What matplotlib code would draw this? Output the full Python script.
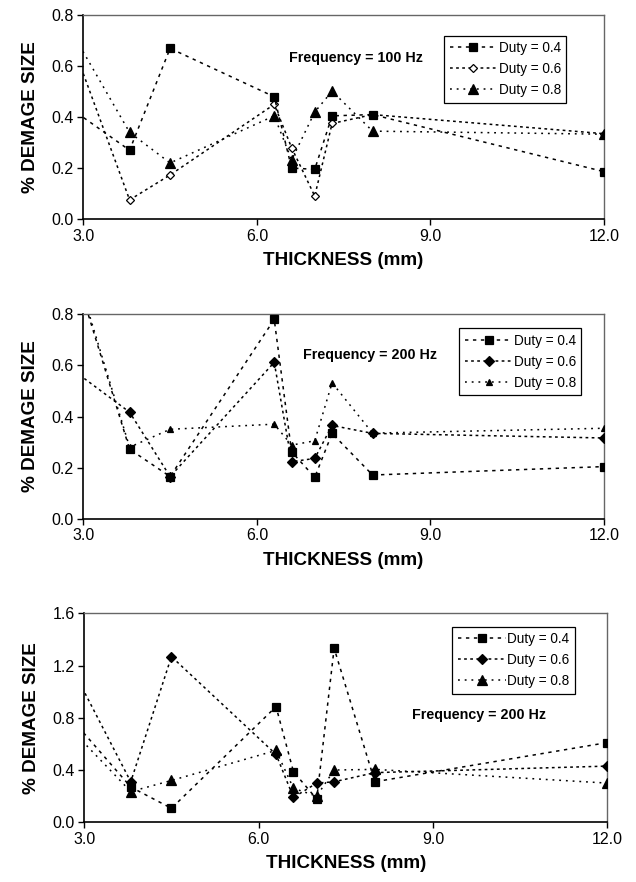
import numpy as np
import matplotlib
matplotlib.use("Agg")
import matplotlib.pyplot as plt

plt.rcParams['font.family'] = ['Liberation Sans', 'DejaVu Sans']

# thickness values (first point lies left of the visible range)
thickness = [2.0, 3.8, 4.5, 6.3, 6.6, 7.0, 7.3, 8.0, 12.0]

# frequency = 100 Hz
f100_d04 = [0.56, 0.27, 0.67, 0.48, 0.20, 0.195, 0.405, 0.41, 0.186]
f100_d06 = [1.19, 0.075, 0.173, 0.45, 0.28, 0.09, 0.375, 0.41, 0.335]
f100_d08 = [1.05, 0.34, 0.22, 0.405, 0.232, 0.42, 0.502, 0.345, 0.333]

# frequency = 200 Hz (middle)
f200_d04 = [1.60, 0.272, 0.165, 0.78, 0.262, 0.162, 0.334, 0.171, 0.204]
f200_d06 = [0.72, 0.417, 0.165, 0.612, 0.223, 0.236, 0.365, 0.334, 0.316]
f200_d08 = [1.62, 0.28, 0.35, 0.37, 0.288, 0.305, 0.532, 0.335, 0.354]

# frequency = 200 Hz (bottom)
f200b_d04 = [1.19, 0.27, 0.107, 0.885, 0.387, 0.178, 1.332, 0.31, 0.61]
f200b_d06 = [1.86, 0.31, 1.268, 0.52, 0.19, 0.30, 0.31, 0.38, 0.43]
f200b_d08 = [1.07, 0.235, 0.32, 0.55, 0.26, 0.20, 0.40, 0.405, 0.30]

labels = ["Duty = 0.4", "Duty = 0.6", "Duty = 0.8"]

fig = plt.figure(figsize=(6.36, 8.82), dpi=100)

panels = [
    dict(rect=[0.131, 0.7517, 0.8187, 0.231], series=[f100_d04, f100_d06, f100_d08],
         markers=[('s', 6, 'black'), ('D', 4.2, 'white'), ('^', 6.5, 'black')],
         ymax=0.8, ystep=0.2, text="Frequency = 100 Hz", tpos=(0.524, 0.79),
         leg=(0.693, 0.900)),
    dict(rect=[0.131, 0.4119, 0.8187, 0.2317], series=[f200_d04, f200_d06, f200_d08],
         markers=[('s', 6, 'black'), ('D', 5, 'black'), ('^', 4.5, 'black')],
         ymax=0.8, ystep=0.2, text="Frequency = 200 Hz", tpos=(0.551, 0.80),
         leg=(0.722, 0.932)),
    dict(rect=[0.1325, 0.0677, 0.8223, 0.237], series=[f200b_d04, f200b_d06, f200b_d08],
         markers=[('s', 6, 'black'), ('D', 5, 'black'), ('^', 6.5, 'black')],
         ymax=1.6, ystep=0.4, text="Frequency = 200 Hz", tpos=(0.755, 0.513),
         leg=(0.704, 0.936)),
]

dashes = [(0, (2.2, 3.0)), (0, (1.8, 2.2)), (0, (1.2, 3.2))]
zorders = [4, 3, 3.5]

for p in panels:
    ax = fig.add_axes(p['rect'])
    for vals, (m, ms, fc), ls, lab, z in zip(p['series'], p['markers'], dashes, labels, zorders):
        ax.plot(thickness, vals, color='black', linestyle=ls, linewidth=1.1,
                marker=m, markersize=ms, markerfacecolor=fc,
                markeredgecolor='black', markeredgewidth=0.9, label=lab, zorder=z)
    ax.set_xlim(3.0, 12.0)
    ax.set_ylim(0, p['ymax'])
    ax.set_xticks([3.0, 6.0, 9.0, 12.0])
    ax.set_xticklabels(["3.0", "6.0", "9.0", "12.0"])
    yt = np.arange(0, p['ymax'] + 1e-9, p['ystep'])
    ax.set_yticks(yt)
    ax.set_yticklabels(["%.1f" % v for v in yt])
    ax.tick_params(direction='out', length=4, width=1, labelsize=11.5, pad=3)
    for s in ['top', 'right']:
        ax.spines[s].set_color('#666666')
        ax.spines[s].set_linewidth(1.0)
    for s in ['left', 'bottom']:
        ax.spines[s].set_linewidth(1.2)
    ax.set_xlabel("THICKNESS (mm)", fontsize=13.6, fontweight='bold', labelpad=6)
    ax.set_ylabel("% DEMAGE SIZE", fontsize=13.6, fontweight='bold', labelpad=9)
    ax.text(p['tpos'][0], p['tpos'][1], p['text'], transform=ax.transAxes,
            fontsize=10.3, fontweight='bold', ha='center', va='center')
    leg = ax.legend(loc='upper left', bbox_to_anchor=p['leg'], borderaxespad=0,
                    fancybox=False, edgecolor='black', framealpha=1,
                    fontsize=9.8, handlelength=3.5, handletextpad=0.1,
                    labelspacing=0.52, borderpad=0.4)
    leg.get_frame().set_linewidth(0.9)

fig.savefig("out.png", dpi=100)
